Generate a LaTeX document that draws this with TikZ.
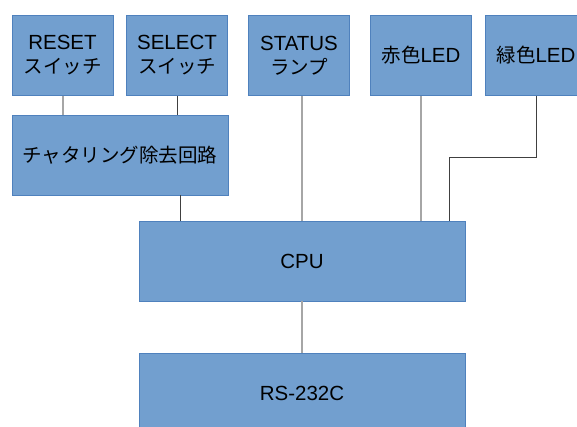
\documentclass[tikz,border=0pt]{standalone}
\usepackage{fontspec}
\setmainfont{Liberation Sans}[Scale=1.05]
\newfontfamily\jp{Noto Sans CJK JP}
\definecolor{boxfill}{HTML}{729FCF}
\definecolor{boxdraw}{HTML}{4F81BD}
\definecolor{lgray}{HTML}{A6A6A6}
\definecolor{dgray}{HTML}{404040}
\begin{document}
\begin{tikzpicture}[x=1pt,y=-1pt,
  blk/.style={draw=boxdraw,line width=0.8pt,fill=boxfill,minimum height=80pt,inner sep=0pt,
    align=center,font=\fontsize{19.5}{24}\selectfont,text=black},
  small/.style={blk,minimum width=101pt},
  lline/.style={draw=lgray,line width=1.4pt},
  dline/.style={draw=dgray,line width=0.9pt}]
\useasboundingbox (0,0) rectangle (577,426);
\fill[white] (0,0) rectangle (577,426);
\node[small] (reset) at (62.5,55.5) {RESET\\{\jp スイッチ}};
\node[small] (select) at (177,55.5) {SELECT\\{\jp スイッチ}};
\node[small] (status) at (299,55.5) {STATUS\\{\jp ランプ}};
\node[small] (red) at (421,55.5) {{\jp 赤色}LED};
\node[small] (green) at (536,55.5) {{\jp 緑色}LED};
\node[blk,minimum width=216pt] (chat) at (120,155) {\jp チャタリング除去回路};
\node[blk,minimum width=326pt] (cpu) at (302,261) {CPU};
\node[blk,minimum width=326pt] (rs) at (302,393) {RS-232C};
\coordinate (chatdown) at ([xshift=60pt]chat.south);
\coordinate (greenin) at ([xshift=147pt]cpu.north);
\coordinate (greenbend) at ([yshift=-62pt]green.south);
\draw[lline] ([xshift=0.5pt]reset.south) -- ([xshift=0.5pt]reset.south |- chat.north);
\draw[dline] (select.south) -- (select.south |- chat.north);
\draw[dline] (chatdown) -- (chatdown |- cpu.north);
\draw[lline] (cpu.north) -- (cpu.north |- status.south);
\draw[lline] (red.south) -- (red.south |- cpu.north);
\draw[dline] (green.south) -- (greenbend) -| (greenin);
\draw[lline] (cpu.south) -- (rs.north);
\end{tikzpicture}
\end{document}
